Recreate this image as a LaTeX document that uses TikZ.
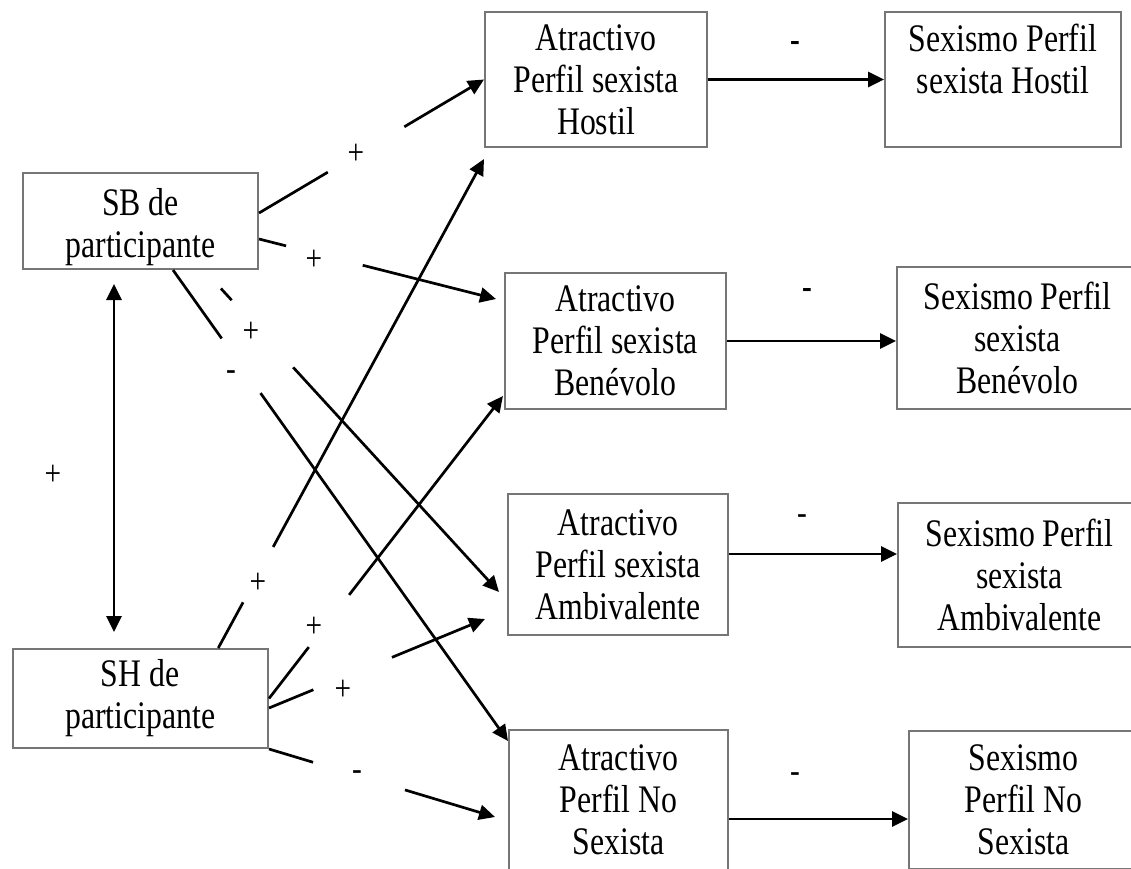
\documentclass[tikz,border=0pt]{standalone}
\usepackage{fontspec}
\setmainfont{Liberation Serif}[FakeStretch=0.815]
\usetikzlibrary{arrows.meta}
\definecolor{boxgray}{RGB}{118,118,118}

\begin{document}
\begin{tikzpicture}[x=1pt, y=-1pt,
    box/.style={draw=boxgray, line width=2pt, align=center, inner sep=0pt, font=\fontsize{39}{42}\selectfont},
    signlabel/.style={inner sep=0pt, font=\fontsize{36}{42}\selectfont},
    conn/.style={line width=2.7pt, -{Triangle[length=16pt,width=15pt]}}]
        \path[use as bounding box] (0,0) rectangle (1131,868);

        % Participant scales
        \node[box, minimum width=235pt, minimum height=96pt] (SB) at (140.5,221) {\rule{0pt}{40pt}SB de\\participante};
        \node[box, minimum width=255.5pt, minimum height=99pt] (SH) at (140.25,698.5) {SH de\\participante};

        % Attractiveness of each profile
        \node[box, minimum width=222pt, minimum height=135pt] (AH) at (596,79.5) {Atractivo\\Perfil sexista\\Hostil};
        \node[box, minimum width=221pt, minimum height=136pt] (AB) at (615.5,341) {Atractivo\\Perfil sexista\\Benévolo};
        \node[box, minimum width=220pt, minimum height=141pt] (AA) at (618,564.5) {Atractivo\\Perfil sexista\\Ambivalente};
        \node[box, minimum width=219pt, minimum height=140pt] (AN) at (618.5,800) {Atractivo\\Perfil No\\Sexista};

        % Perceived sexism of each profile
        \node[box, minimum width=236pt, minimum height=135pt] (SxH) at (1003,79.5) {Sexismo Perfil\\sexista Hostil\\\mbox{}};
        \node[box, minimum width=241pt, minimum height=142pt] (SxB) at (1017.5,338) {Sexismo Perfil\\sexista\\Benévolo};
        \node[box, minimum width=243pt, minimum height=144pt] (SxA) at (1019.5,575) {Sexismo Perfil\\sexista\\Ambivalente};
        \node[box, minimum width=229pt, minimum height=138pt] (SxN) at (1023.5,800) {Sexismo\\Perfil No\\Sexista};

        % Paths from SB
        \draw[conn, dash pattern=on 80pt off 89pt on 2000pt] ([yshift=8pt]SB.east) -- (AH.west);
        \draw[conn, dash pattern=on 28pt off 79pt on 2000pt] ([yshift=-18pt]SB.east) -- ([xshift=-8pt,yshift=-27pt]AB.north west);
        \draw[conn, dash pattern=on 84pt off 67pt on 2000pt] ([xshift=32.5pt]SB.south) -- ([yshift=-12pt]AN.north west);
        \draw[conn, dash pattern=on 0pt off 25pt on 16pt off 91pt on 2000pt] ([xshift=63.5pt]SB.south) -- ([xshift=-8pt,yshift=-27.5pt]AA.west);

        % Paths from SH
        \draw[conn, dash pattern=on 52pt off 63pt on 2000pt] ([xshift=78pt]SH.north) -- ([yshift=-11pt]AH.south west);
        \draw[conn, dash pattern=on 65pt off 66pt on 2000pt] (SH.east) -- ([xshift=-1pt,yshift=14pt]AB.south west);
        \draw[conn, dash pattern=on 48pt off 85pt on 2000pt] ([yshift=-9.5pt]SH.east) -- ([xshift=-22pt,yshift=17pt]AA.south west);
        \draw[conn, dash pattern=on 46pt off 96pt on 2000pt] (SH.south east) -- ([xshift=-13pt,yshift=-17pt]AN.west);

        % Correlation SB - SH
        \draw[line width=2.7pt, {Triangle[length=16pt,width=15pt]}-{Triangle[length=16pt,width=15pt]}] ([xshift=-26.5pt,yshift=-14pt]SB.south) -- ([xshift=-26.25pt,yshift=16pt]SH.north);

        % Attractiveness -> sexism
        \draw[conn] (AH.east) -- (SxH.west);
        \draw[conn] (AB.east) -- (AB.east -| SxB.west);
        \draw[conn] ([yshift=10.5pt]AA.east) -- ([yshift=10.5pt]AA.east -| SxA.west);
        \draw[conn] ([yshift=-19pt]AN.east) -- ([yshift=-19pt]AN.east -| SxN.west);

        % Signs
        \node[signlabel] (lsbah) at (356,154) {+};
        \node[signlabel] (lsbab) at (314,260) {+};
        \node[signlabel] (lsbaa) at (251,332) {+};
        \node[signlabel] (lsban) at (231,376) {-};
        \node[signlabel] (lshah) at (258,583) {+};
        \node[signlabel] (lshab) at (314,627) {+};
        \node[signlabel] (lshaa) at (343,690) {+};
        \node[signlabel] (lshan) at (357,776) {-};
        \node[signlabel] (lsbsh) at (53,475) {+};
        \node[signlabel] (lh) at (795,46) {\textbf{-}};
        \node[signlabel] (lb) at (807,293) {\textbf{-}};
        \node[signlabel] (la) at (802,520) {-};
        \node[signlabel] (ln) at (795,778) {-};
      \end{tikzpicture}
\end{document}
